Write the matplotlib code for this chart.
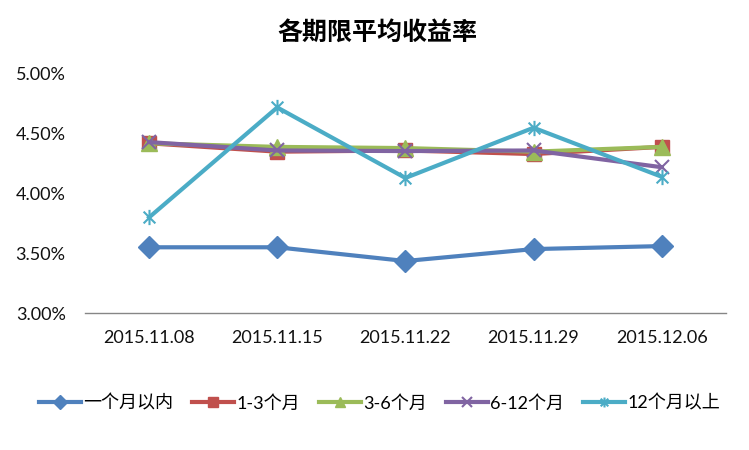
import matplotlib
matplotlib.use("Agg")
import matplotlib.pyplot as plt
from matplotlib.path import Path
from matplotlib.ticker import FuncFormatter

plt.rcParams['font.family'] = ['Lato', 'Noto Sans CJK SC', 'DejaVu Sans']

dates = ['2015.11.08', '2015.11.15', '2015.11.22', '2015.11.29', '2015.12.06']
series_names = ['一个月以内', '1-3个月', '3-6个月', '6-12个月', '12个月以上']
within_1m = [3.55, 3.55, 3.435, 3.535, 3.56]
m1_3 = [4.42, 4.35, 4.36, 4.33, 4.39]
m3_6 = [4.42, 4.39, 4.38, 4.35, 4.39]
m6_12 = [4.43, 4.36, 4.355, 4.36, 4.22]
over_12m = [3.80, 4.72, 4.13, 4.55, 4.14]

# excel style star: x plus a vertical bar
star = Path([(-1, -1), (1, 1), (-1, 1), (1, -1), (0, -1.3), (0, 1.3)],
            [Path.MOVETO, Path.LINETO, Path.MOVETO, Path.LINETO, Path.MOVETO, Path.LINETO])

styles = [
    ('#4F81BD', 'D', 11),
    ('#C0504D', 's', 10),
    ('#9BBB59', '^', 11),
    ('#8064A2', 'x', 10),
    ('#4BACC6', star, 11),
]
values = [within_1m, m1_3, m3_6, m6_12, over_12m]

fig = plt.figure(figsize=(7.49, 4.5), dpi=100)
ax = fig.add_axes([0.1135, 0.3044, 0.8555, 0.5312])

x = range(len(dates))
for name, vals, (col, mk, ms) in zip(series_names, values, styles):
    ax.plot(x, vals, color=col, lw=3, marker=mk, markersize=ms,
            markeredgecolor=col, markeredgewidth=1.5 if mk == 'x' or mk is star else 1,
            label=name)

ax.set_xlim(-0.5, 4.5)
ax.set_ylim(3.0, 5.0)
ax.set_yticks([3.0, 3.5, 4.0, 4.5, 5.0])
ax.yaxis.set_major_formatter(FuncFormatter(lambda v, p: '%.2f%%' % v))
ax.set_xticks(list(x))
ax.set_xticklabels(dates)
ax.tick_params(axis='both', length=0, labelsize=13, colors='#111111')
ax.tick_params(axis='y', pad=14)
ax.tick_params(axis='x', pad=12)

for s in ['top', 'right', 'left']:
    ax.spines[s].set_visible(False)
ax.spines['bottom'].set_color('#868686')
ax.spines['bottom'].set_linewidth(1)

fig.text(0.504, 0.927, '各期限平均收益率', ha='center', va='center',
         fontsize=18, fontweight='semibold', family=['Noto Sans CJK SC', 'DejaVu Sans'])

leg = fig.legend(loc='center', bbox_to_anchor=(0.507, 0.104), ncol=5, frameon=False,
                 prop={'family': ['Lato', 'Noto Sans CJK SC'], 'size': 13},
                 handlelength=2.3, handletextpad=0.15, columnspacing=1.05, markerscale=0.65)

fig.savefig('out.png', dpi=100, facecolor='white')
